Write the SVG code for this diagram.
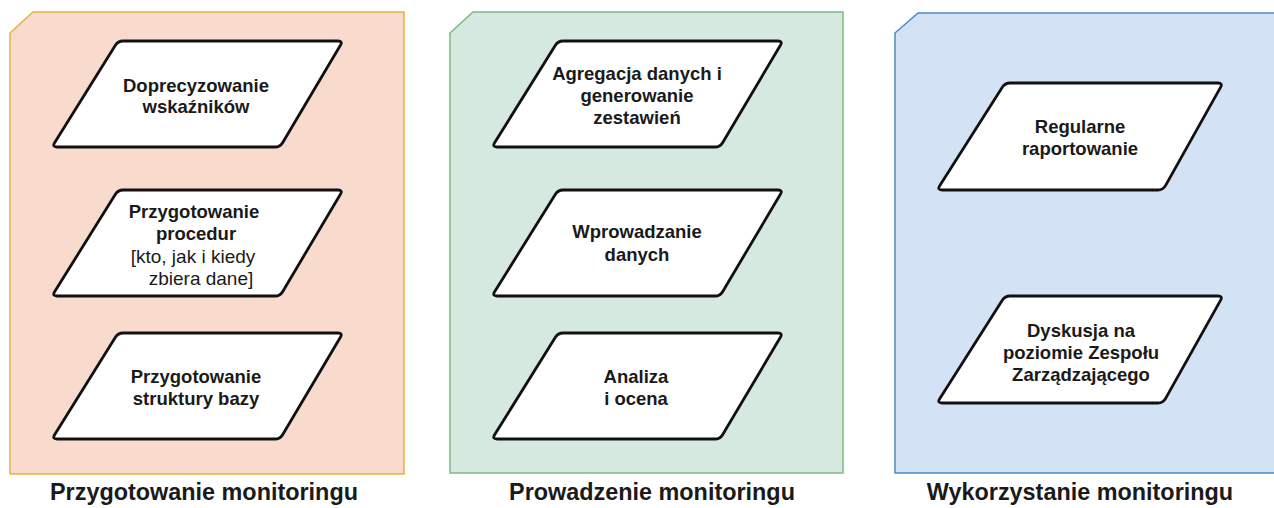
<svg xmlns="http://www.w3.org/2000/svg" width="1274" height="508" viewBox="0 0 1274 508">
<style>
.b{font-family:"Liberation Sans",Arial,sans-serif;font-weight:bold;font-size:18.5px;fill:#1a1a1a;text-anchor:middle}
.r{font-family:"Liberation Sans",Arial,sans-serif;font-size:19px;fill:#1a1a1a;text-anchor:middle}
.t{font-family:"Liberation Sans",Arial,sans-serif;font-weight:bold;font-size:23.4px;fill:#1a1a1a;text-anchor:middle}
.pg{fill:#ffffff;stroke:#111111;stroke-width:2.8;stroke-linejoin:round}
</style>
<defs>
<path id="pgA" class="pg" d="M-2.6,4.3 Q0,0 5,0 L220,0 Q225,0 222.4,4.3 L164.6,101.7 Q162,106 157,106 L-61,106 Q-66,106 -63.4,101.7 Z"/>
<path id="pgB" class="pg" d="M-2.7,4.2 Q0,0 5,0 L213,0 Q218,0 215.5,4.4 L160.5,102.6 Q158,107 153,107 L-63,107 Q-68,107 -65.3,102.8 Z"/>
</defs>
<rect width="1274" height="508" fill="#ffffff"/>
<g id="panel-przygotowanie">
<path d="M10,33 L33,12 L404,12 L404,474 L10,474 Z" fill="#f9dbcd" stroke="#e0b448" stroke-width="1.5"/>
<text class="t" x="204" y="500">Przygotowanie monitoringu</text>
</g>
<g id="panel-prowadzenie">
<path d="M450,33 L473,12 L843,12 L843,473 L450,473 Z" fill="#d6e9e1" stroke="#80b880" stroke-width="1.5"/>
<text class="t" x="652" y="500">Prowadzenie monitoringu</text>
</g>
<g id="panel-wykorzystanie">
<path d="M895,33 L918,13 L1276,13 L1276,473 L895,473 Z" fill="#d3e2f5" stroke="#4a8ac8" stroke-width="1.5"/>
<text class="t" x="1080" y="500">Wykorzystanie monitoringu</text>
</g>
<g id="node-doprecyzowanie">
<use href="#pgA" x="118" y="41"/>
<text class="b" x="196" y="92">Doprecyzowanie</text>
<text class="b" x="196" y="113">wskaźników</text>
</g>
<g id="node-procedury">
<use href="#pgA" x="118" y="190"/>
<text class="b" x="194" y="218">Przygotowanie</text>
<text class="b" x="196" y="240">procedur</text>
<text class="r" x="193" y="263">[kto, jak i kiedy</text>
<text class="r" x="201" y="285">zbiera dane]</text>
</g>
<g id="node-struktura">
<use href="#pgA" x="118" y="333"/>
<text class="b" x="196" y="383">Przygotowanie</text>
<text class="b" x="196" y="405">struktury bazy</text>
</g>
<g id="node-agregacja">
<use href="#pgA" x="558" y="41"/>
<text class="b" x="637" y="80">Agregacja danych i</text>
<text class="b" x="637" y="102">generowanie</text>
<text class="b" x="637" y="124">zestawień</text>
</g>
<g id="node-wprowadzanie">
<use href="#pgA" x="558" y="190"/>
<text class="b" x="637" y="238">Wprowadzanie</text>
<text class="b" x="637" y="261">danych</text>
</g>
<g id="node-analiza">
<use href="#pgA" x="558" y="333"/>
<text class="b" x="636" y="383">Analiza</text>
<text class="b" x="636" y="405">i ocena</text>
</g>
<g id="node-raportowanie">
<use href="#pgB" x="1005" y="83"/>
<text class="b" x="1080" y="133">Regularne</text>
<text class="b" x="1080" y="155">raportowanie</text>
</g>
<g id="node-dyskusja">
<use href="#pgB" x="1005" y="296"/>
<text class="b" x="1081" y="337">Dyskusja na</text>
<text class="b" x="1081" y="359">poziomie Zespołu</text>
<text class="b" x="1081" y="381">Zarządzającego</text>
</g>
<g id="connectors"></g>
</svg>
